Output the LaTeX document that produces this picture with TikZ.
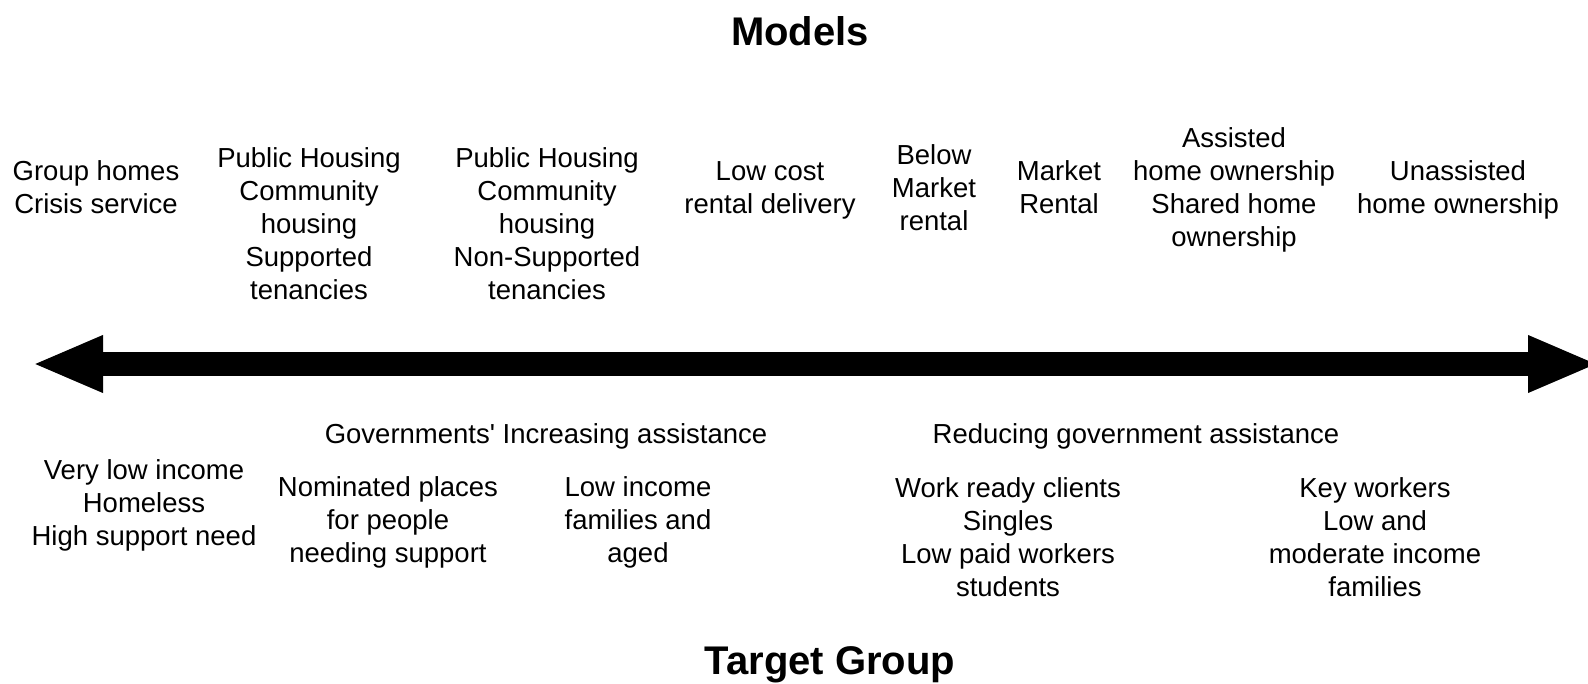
\documentclass[tikz,border=0pt]{standalone}
\usepackage{fontspec}
\setmainfont{Liberation Sans}
\usetikzlibrary{arrows.meta}
\begin{document}
\begin{tikzpicture}[x=1pt,y=-1pt,
  lbl/.style={inner sep=0pt, align=center, font=\fontsize{27.5}{33}\selectfont},
  ttl/.style={inner sep=0pt, font=\fontsize{40}{46}\bfseries\selectfont},
  spectrum/.style={line width=24pt,
    {Triangle[length=71pt,width=52pt]}-{Triangle[length=71pt,width=52pt]}}]
  \useasboundingbox (0,0) rectangle (1588,683);
  \clip (0,0) rectangle (1588,683);

  % headings
  \node[ttl] (models) at (800,31) {Models};
  \node[ttl] (target) at (830,665) {Target Group};

  % housing models along the top
  \node[lbl] (m1) at (96,187) {Group homes\\Crisis service};
  \node[lbl] (m2) at (309,224) {Public Housing\\Community\\housing\\Supported\\tenancies};
  \node[lbl] (m3) at (547,224) {Public Housing\\Community\\housing\\Non-Supported\\tenancies};
  \node[lbl] (m4) at (770,190) {Low cost\\rental delivery};
  \node[lbl] (m5) at (934,188) {Below\\Market\\rental};
  \node[lbl] (m6) at (1059,187) {Market\\Rental};
  \node[lbl] (m7) at (1234,190) {Assisted\\home ownership\\Shared home\\ownership};
  \node[lbl] (m8) at (1458,190) {Unassisted\\home ownership};

  % the spectrum arrow
  \coordinate (left) at (32,364);
  \coordinate (right) at (1599,364);
  \draw[spectrum] (left) -- (right);

  % direction of assistance
  \node[lbl] (inc) at (546,436) {Governments\textquotesingle{} Increasing assistance};
  \node[lbl] (red) at (1136,436) {Reducing government assistance};

  % target groups along the bottom
  \node[lbl] (t1) at (144,505) {Very low income\\Homeless\\High support need};
  \node[lbl] (t2) at (388,522) {Nominated places\\for people\\needing support};
  \node[lbl] (t3) at (638,522) {Low income\\families and\\aged};
  \node[lbl] (t4) at (1008,537) {Work ready clients\\Singles\\Low paid workers\\students};
  \node[lbl] (t5) at (1375,537) {Key workers\\Low and\\moderate income\\families};
\end{tikzpicture}
\end{document}
